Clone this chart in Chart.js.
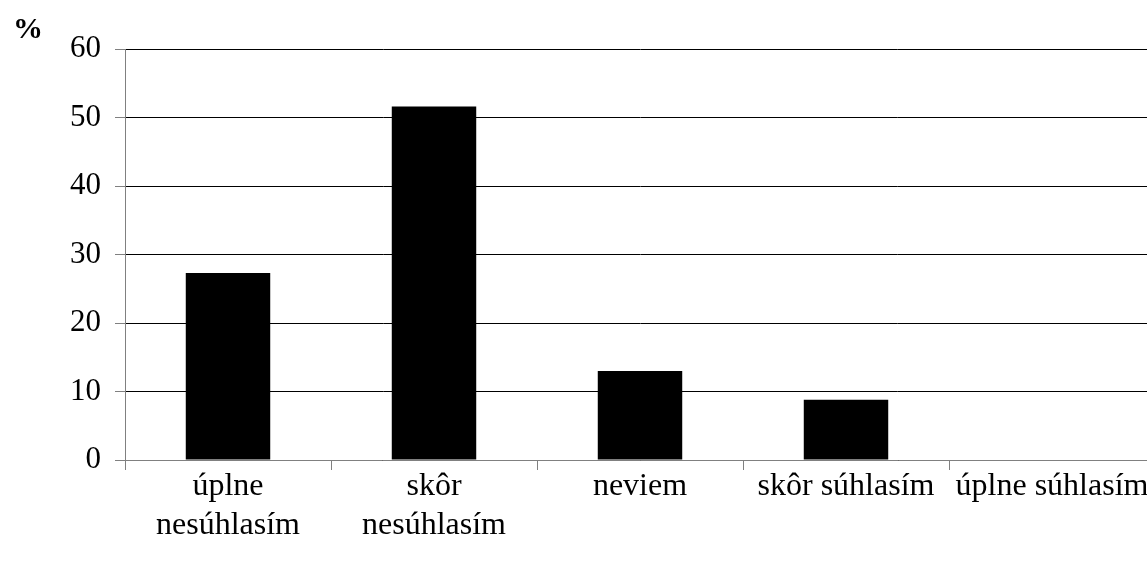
<!DOCTYPE html>
<html>
<head>
<meta charset="utf-8">
<script src="https://cdn.jsdelivr.net/npm/chart.js@4/dist/chart.umd.min.js"></script>
<style>
  html, body { margin: 0; padding: 0; background: #fff; overflow: hidden; }
  #wrap { width: 1160px; height: 561px; position: relative; }
</style>
</head>
<body>
<div id="wrap"><canvas id="c"></canvas></div>
<script>
// Answer categories (multi-line labels) and share of respondents in %
const categories = [
  ['úplne', 'nesúhlasím'],
  ['skôr', 'nesúhlasím'],
  'neviem',
  'skôr súhlasím',
  'úplne súhlasím'
];
const percentValues = [27.3, 51.6, 13.0, 8.8, 0];
const yTicks = [0, 10, 20, 30, 40, 50, 60];
const unitLabel = '%';

const FONT = '"Liberation Serif", "Times New Roman", serif';

// Draws the unit symbol above the value axis
const unitPlugin = {
  id: 'unitLabel',
  afterDraw(chart) {
    const ctx = chart.ctx;
    const area = chart.chartArea;
    ctx.save();
    ctx.fillStyle = '#000';
    ctx.font = 'bold 30px ' + FONT;
    ctx.textAlign = 'left';
    ctx.textBaseline = 'alphabetic';
    ctx.fillText(unitLabel, area.left - 112, area.top - 11);
    ctx.restore();
  }
};

new Chart(document.getElementById('c'), {
  type: 'bar',
  data: {
    labels: categories,
    datasets: [{
      data: percentValues,
      backgroundColor: '#000',
      borderWidth: 0,
      categoryPercentage: 1.0,
      barPercentage: 0.41
    }]
  },
  options: {
    responsive: true,
    maintainAspectRatio: false,
    animation: false,
    layout: { padding: { top: 49, right: 5, left: 0, bottom: 0 } },
    plugins: {
      legend: { display: false },
      tooltip: { enabled: false }
    },
    scales: {
      x: {
        grid: {
          display: true,
          offset: true,
          drawOnChartArea: false,
          drawTicks: true,
          tickLength: 10,
          tickColor: '#808080'
        },
        border: { display: true, color: '#808080', width: 1 },
        ticks: {
          color: '#000',
          font: { family: FONT, size: 32, lineHeight: 1.22 },
          padding: -3,
          maxRotation: 0,
          minRotation: 0,
          autoSkip: false
        },
        afterFit(scale) { scale.height = 101; }
      },
      y: {
        min: 0,
        max: 60,
        afterBuildTicks(scale) {
          scale.ticks = yTicks.map(v => ({ value: v }));
        },
        grid: {
          color: '#000',
          lineWidth: 1,
          drawTicks: true,
          tickLength: 10,
          tickColor: '#808080'
        },
        border: { display: true, color: '#808080', width: 1 },
        ticks: {
          color: '#000',
          font: { family: FONT, size: 31 },
          padding: 14
        },
        afterFit(scale) { scale.width = 125; }
      }
    }
  },
  plugins: [unitPlugin]
});
</script>
</body>
</html>
